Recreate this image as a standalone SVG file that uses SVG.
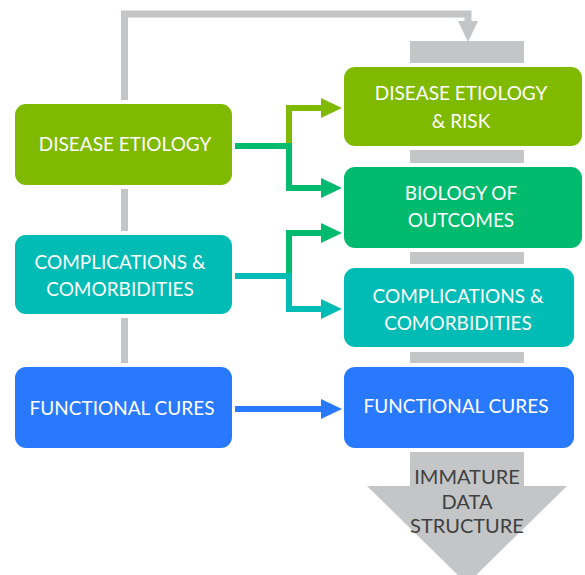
<svg xmlns="http://www.w3.org/2000/svg" width="585" height="575" viewBox="0 0 585 575">
  <style>
    .lbl { font-family: Lato, "Open Sans", "Liberation Sans", sans-serif; font-size: 19px; fill: #ffffff; text-anchor: middle; }
    .dark { fill: #404040; font-size: 20px; }
    .g1 { fill: #7fba00; }
    .g2 { fill: #00bb6e; }
    .tl { fill: #00bcb4; }
    .bl { fill: #2979ff; }
    .gr { fill: #c4c5c7; }
  </style>
  <defs>
    <marker id="ahG1" markerUnits="userSpaceOnUse" markerWidth="22" markerHeight="22" refX="0" refY="10" orient="auto">
      <path d="M0,0 L21,10 L0,20 Z" fill="#7fba00"/>
    </marker>
    <marker id="ahG2" markerUnits="userSpaceOnUse" markerWidth="22" markerHeight="22" refX="0" refY="10" orient="auto">
      <path d="M0,0 L21,10 L0,20 Z" fill="#00bb6e"/>
    </marker>
    <marker id="ahTl" markerUnits="userSpaceOnUse" markerWidth="22" markerHeight="22" refX="0" refY="10" orient="auto">
      <path d="M0,0 L21,10 L0,20 Z" fill="#00bcb4"/>
    </marker>
    <marker id="ahBl" markerUnits="userSpaceOnUse" markerWidth="22" markerHeight="22" refX="0" refY="10" orient="auto">
      <path d="M0,0 L21,10 L0,20 Z" fill="#2979ff"/>
    </marker>
    <marker id="ahGr" markerUnits="userSpaceOnUse" markerWidth="22" markerHeight="22" refX="0" refY="10" orient="auto">
      <path d="M0,0 L21,10 L0,20 Z" fill="#c4c5c7"/>
    </marker>
  </defs>

  <!-- gray spine and separators -->
  <g id="spine">
    <rect class="gr" x="121" y="189" width="7" height="42"/>
    <rect class="gr" x="121" y="318" width="7" height="45"/>
    <rect class="gr" x="410" y="41" width="114" height="22"/>
    <rect class="gr" x="410" y="150" width="114" height="13"/>
    <rect class="gr" x="410" y="252" width="114" height="12"/>
    <rect class="gr" x="410" y="352" width="114" height="11"/>
  </g>

  <!-- connectors -->
  <g id="connectors" fill="none" stroke-width="6">
    <path d="M124.5,100 V14 H468 V21" stroke="#c4c5c7" stroke-width="7" marker-end="url(#ahGr)"/>
    <path d="M289,146 V108 H321" stroke="#7fba00" marker-end="url(#ahG1)"/>
    <path d="M289,146 V188 H321" stroke="#00bb6e" marker-end="url(#ahG2)"/>
    <path d="M235,146 H292" stroke="#00bb6e"/>
    <path d="M289,276 V233 H321" stroke="#00bb6e" marker-end="url(#ahG2)"/>
    <path d="M289,276 V309 H321" stroke="#00bcb4" marker-end="url(#ahTl)"/>
    <path d="M235,276 H292" stroke="#00bcb4"/>
    <path d="M235,409 H321" stroke="#2979ff" marker-end="url(#ahBl)"/>
  </g>

  <!-- left column -->
  <g id="src-etiology">
    <rect class="g1" x="15" y="104" width="217" height="81" rx="11"/>
    <text class="lbl" x="125" y="151">DISEASE ETIOLOGY</text>
  </g>
  <g id="src-complications">
    <rect class="tl" x="15" y="235" width="217" height="79" rx="11"/>
    <text class="lbl" x="120" y="269">COMPLICATIONS &amp;</text>
    <text class="lbl" x="120" y="296">COMORBIDITIES</text>
  </g>
  <g id="src-cures">
    <rect class="bl" x="15" y="367" width="217" height="81" rx="11"/>
    <text class="lbl" x="122" y="415">FUNCTIONAL CURES</text>
  </g>

  <!-- right column -->
  <g id="dst-etiology-risk">
    <rect class="g1" x="344" y="67" width="238" height="79" rx="11"/>
    <text class="lbl" x="461" y="100">DISEASE ETIOLOGY</text>
    <text class="lbl" x="461" y="128">&amp; RISK</text>
  </g>
  <g id="dst-biology">
    <rect class="g2" x="344" y="167" width="238" height="81" rx="11"/>
    <text class="lbl" x="461" y="200">BIOLOGY OF</text>
    <text class="lbl" x="461" y="227">OUTCOMES</text>
  </g>
  <g id="dst-complications">
    <rect class="tl" x="344" y="268" width="230" height="79" rx="11"/>
    <text class="lbl" x="458" y="303">COMPLICATIONS &amp;</text>
    <text class="lbl" x="458" y="330">COMORBIDITIES</text>
  </g>
  <g id="dst-cures">
    <rect class="bl" x="344" y="367" width="230" height="81" rx="11"/>
    <text class="lbl" x="456" y="413">FUNCTIONAL CURES</text>
  </g>

  <!-- maturity arrow -->
  <g id="immature">
    <path class="gr" d="M410,452 H524 V486 H567 L467,584 L367,486 H410 Z"/>
    <text class="lbl dark" x="467" y="484">IMMATURE</text>
    <text class="lbl dark" x="467" y="509">DATA</text>
    <text class="lbl dark" x="467" y="533">STRUCTURE</text>
  </g>
</svg>
